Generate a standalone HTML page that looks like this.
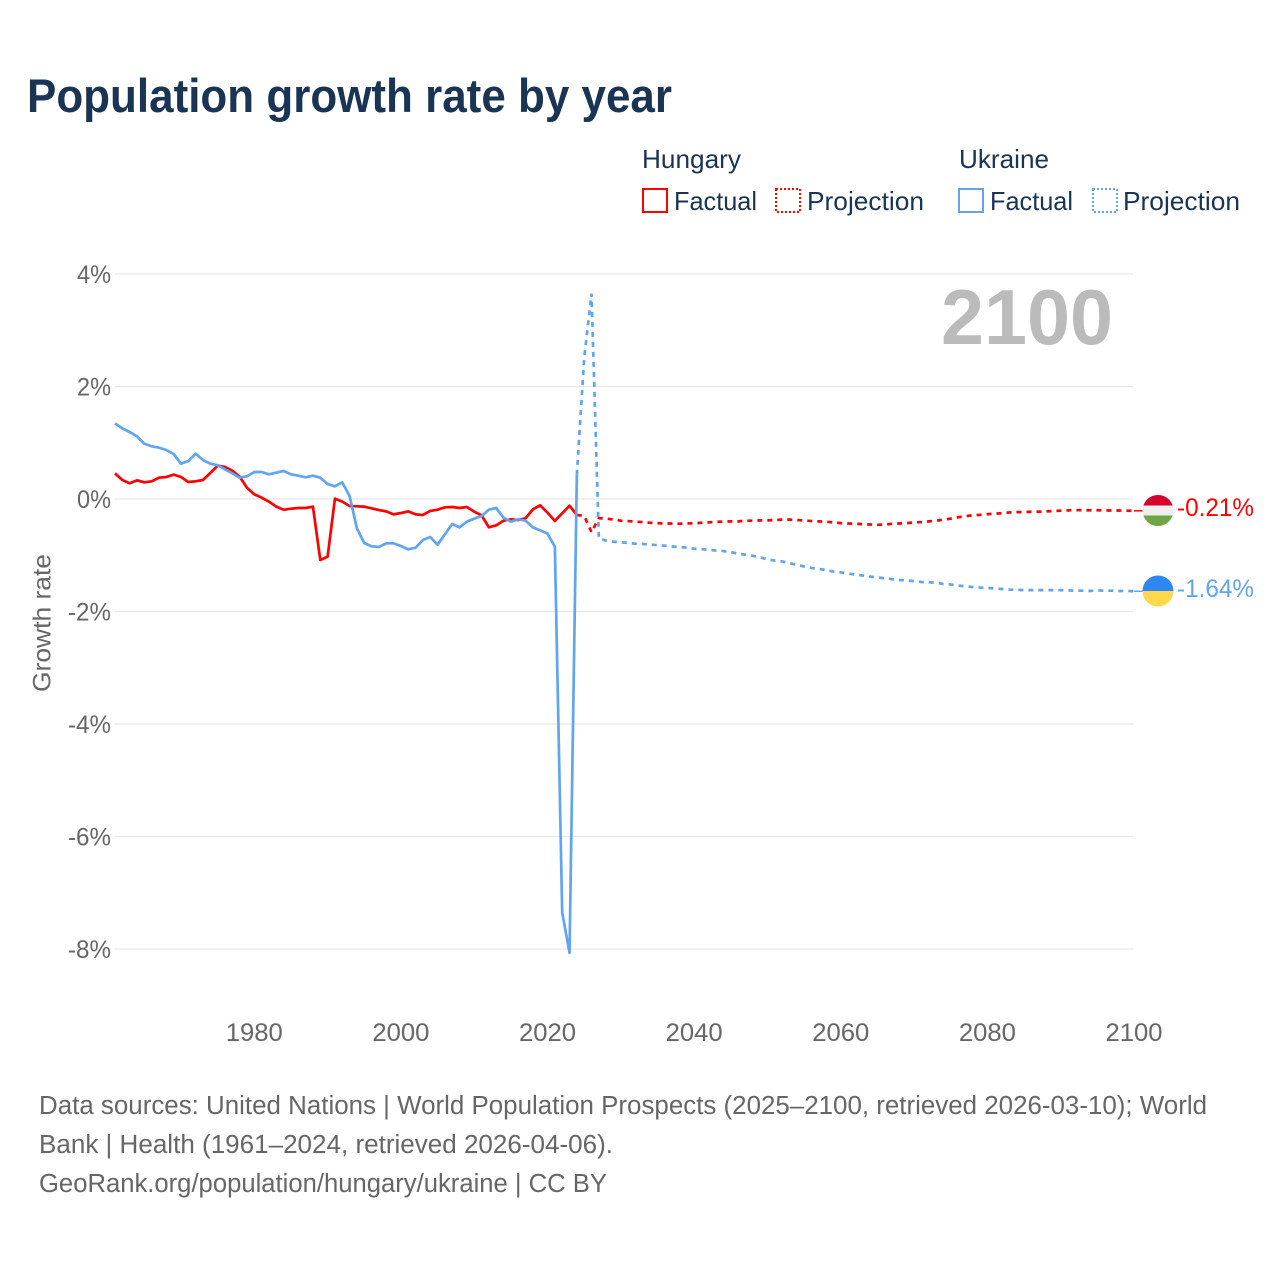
<!DOCTYPE html>
<html>
<head>
<meta charset="utf-8">
<title>Population growth rate by year</title>
<style>
html,body{margin:0;padding:0;background:#fff}
svg{display:block}
text{font-family:"Liberation Sans",sans-serif}
</style>
</head>
<body>
<svg id="chart" xmlns="http://www.w3.org/2000/svg" width="1280" height="1280" viewBox="0 0 1280 1280">
  <defs>
    <clipPath id="hu-clip"><circle cx="1158" cy="510.5" r="15.5"/></clipPath>
    <clipPath id="ua-clip"><circle cx="1158" cy="591" r="15.5"/></clipPath>
  </defs>
  <rect x="0" y="0" width="1280" height="1280" fill="#fff"/>
  <text x="27" y="112" font-size="47" font-weight="700" fill="#1a3454" textLength="645" lengthAdjust="spacingAndGlyphs">Population growth rate by year</text>

  <g font-size="26" fill="#1a3454">
    <text x="642" y="168" textLength="99" lengthAdjust="spacingAndGlyphs">Hungary</text>
    <text x="959" y="168" textLength="90" lengthAdjust="spacingAndGlyphs">Ukraine</text>
    <rect x="643" y="189" width="24" height="23" fill="none" stroke="#ff0000" stroke-width="2"/>
    <text x="674" y="210" textLength="83" lengthAdjust="spacingAndGlyphs">Factual</text>
    <rect x="776" y="189" width="24" height="23" fill="none" stroke="#ff0000" stroke-width="2" stroke-dasharray="2 2"/>
    <text x="807" y="210" textLength="117" lengthAdjust="spacingAndGlyphs">Projection</text>
    <rect x="959" y="189" width="24" height="23" fill="none" stroke="#60a5ee" stroke-width="2"/>
    <text x="990" y="210" textLength="83" lengthAdjust="spacingAndGlyphs">Factual</text>
    <rect x="1093" y="189" width="24" height="23" fill="none" stroke="#60a5ee" stroke-width="2" stroke-dasharray="2 2"/>
    <text x="1123" y="210" textLength="117" lengthAdjust="spacingAndGlyphs">Projection</text>
  </g>

  <g id="grid"></g>
  <g id="y-ticks"></g>
  <g id="x-ticks"></g>
  <text transform="translate(50.5 692) rotate(-90)" x="0" y="0" font-size="25" fill="#666" textLength="138" lengthAdjust="spacingAndGlyphs">Growth rate</text>
  <text x="941" y="344" font-size="78" font-weight="700" fill="#bbbbbb" textLength="172" lengthAdjust="spacingAndGlyphs">2100</text>
  <g id="series"></g>

  <g clip-path="url(#hu-clip)">
    <rect x="1140" y="494" width="36" height="11.5" fill="#d5002b"/>
    <rect x="1140" y="505.5" width="36" height="10" fill="#eeeeee"/>
    <rect x="1140" y="515.5" width="36" height="12" fill="#6fa544"/>
  </g>
  <g clip-path="url(#ua-clip)">
    <rect x="1140" y="574" width="36" height="17" fill="#2f88f0"/>
    <rect x="1140" y="591" width="36" height="17" fill="#ffd84c"/>
  </g>
  <text id="label-hu" x="1177" y="516" font-size="25" fill="#ff0000" textLength="77" lengthAdjust="spacingAndGlyphs">-0.21%</text>
  <text id="label-ua" x="1177" y="597" font-size="25" fill="#60a5ee" textLength="77" lengthAdjust="spacingAndGlyphs">-1.64%</text>

  <g font-size="25.5" fill="#666">
    <text x="39" y="1114" textLength="1168" lengthAdjust="spacingAndGlyphs">Data sources: United Nations | World Population Prospects (2025–2100, retrieved 2026-03-10); World</text>
    <text x="39" y="1153" textLength="574" lengthAdjust="spacingAndGlyphs">Bank | Health (1961–2024, retrieved 2026-04-06).</text>
    <text x="39" y="1192" textLength="568" lengthAdjust="spacingAndGlyphs">GeoRank.org/population/hungary/ukraine | CC BY</text>
  </g>
</svg>
<script>
const yTickValues = [4, 2, 0, -2, -4, -6, -8];
const yTickLabels = ['4%', '2%', '0%', '-2%', '-4%', '-6%', '-8%'];
const xTickValues = [1980, 2000, 2020, 2040, 2060, 2080, 2100];
const xTickLabels = ['1980', '2000', '2020', '2040', '2060', '2080', '2100'];

const factualStartYear = 1961;
const projectionStartYear = 2024;

const hungaryFactual = [0.456, 0.338, 0.279, 0.332, 0.296, 0.314, 0.379, 0.391, 0.433, 0.391,
  0.302, 0.314, 0.338, 0.462, 0.593, 0.569, 0.504, 0.397, 0.201, 0.083,
  0.024, -0.047, -0.136, -0.19, -0.172, -0.16, -0.16, -0.136, -1.084, -1.025,
  0.006, -0.047, -0.124, -0.13, -0.136, -0.166, -0.196, -0.22, -0.273, -0.249,
  -0.22, -0.273, -0.284, -0.213, -0.19, -0.148, -0.142, -0.16, -0.142, -0.225,
  -0.29, -0.504, -0.468, -0.385, -0.361, -0.373, -0.344, -0.184, -0.113, -0.243,
  -0.391, -0.255, -0.119, -0.284];

const ukraineFactual = [1.345, 1.256, 1.191, 1.114, 0.984, 0.936, 0.913, 0.871, 0.8, 0.628,
  0.676, 0.806, 0.693, 0.628, 0.6, 0.527, 0.456, 0.379, 0.403, 0.48,
  0.48, 0.439, 0.468, 0.498, 0.439, 0.415, 0.385, 0.415, 0.379, 0.267,
  0.225, 0.296, 0.053, -0.521, -0.782, -0.841, -0.853, -0.788, -0.788, -0.836,
  -0.895, -0.865, -0.729, -0.676, -0.812, -0.628, -0.444, -0.504, -0.403, -0.35,
  -0.302, -0.19, -0.16, -0.332, -0.403, -0.361, -0.385, -0.504, -0.557, -0.616,
  -0.847, -7.35, -8.07, 0.43];

const hungaryProjection = [-0.284, -0.3, -0.59, -0.34,
  -0.349, -0.365, -0.386, -0.392, -0.404, -0.41, -0.423, -0.429, -0.435, -0.435, -0.44, -0.435,
  -0.43, -0.423, -0.416, -0.404, -0.404, -0.398, -0.398, -0.386, -0.386, -0.38, -0.38, -0.374,
  -0.367, -0.367, -0.374, -0.38, -0.392, -0.398, -0.404, -0.416, -0.429, -0.435, -0.441, -0.447,
  -0.453, -0.459, -0.453, -0.441, -0.435, -0.429, -0.416, -0.41, -0.398, -0.386, -0.367, -0.349,
  -0.325, -0.306, -0.288, -0.282, -0.269, -0.263, -0.251, -0.239, -0.233, -0.233, -0.227, -0.227,
  -0.22, -0.214, -0.208, -0.202, -0.196, -0.2, -0.2, -0.2, -0.202, -0.205, -0.205, -0.208, -0.21];

const ukraineProjection = [0.43, 2.5, 3.65, -0.7,
  -0.74, -0.76, -0.77, -0.78, -0.795, -0.8, -0.81, -0.82, -0.83, -0.845, -0.855, -0.865,
  -0.885, -0.89, -0.905, -0.915, -0.925, -0.945, -0.97, -0.99, -1.01, -1.035, -1.075, -1.095,
  -1.11, -1.14, -1.17, -1.2, -1.225, -1.24, -1.265, -1.29, -1.305, -1.325, -1.345, -1.36,
  -1.38, -1.395, -1.41, -1.425, -1.44, -1.45, -1.46, -1.475, -1.48, -1.49, -1.51, -1.52,
  -1.54, -1.55, -1.565, -1.575, -1.58, -1.59, -1.6, -1.61, -1.615, -1.62, -1.62, -1.62,
  -1.62, -1.62, -1.62, -1.625, -1.63, -1.63, -1.635, -1.625, -1.63, -1.63, -1.635, -1.635, -1.64];

const SVG_NS = 'http://www.w3.org/2000/svg';
const xScale = function (year) { return 115 + (year - 1961) * 7.331; };
const yScale = function (value) { return 499 - value * 56.25; };

function make(tag, parent, attrs) {
  const el = document.createElementNS(SVG_NS, tag);
  Object.keys(attrs).forEach(function (k) { el.setAttribute(k, attrs[k]); });
  parent.appendChild(el);
  return el;
}

function pathFor(values, startYear) {
  return values.map(function (v, i) {
    return (i ? 'L' : 'M') + xScale(startYear + i).toFixed(2) + ' ' + yScale(v).toFixed(2);
  }).join(' ');
}

const gridGroup = document.getElementById('grid');
const yGroup = document.getElementById('y-ticks');
const xGroup = document.getElementById('x-ticks');
const seriesGroup = document.getElementById('series');

yTickValues.forEach(function (v, i) {
  const line = make('line', gridGroup, { x1: 115, x2: 1133, y1: yScale(v), y2: yScale(v), stroke: '#e8e8e8', 'stroke-width': 1.3 });
  
  
  const t = make('text', yGroup, { x: 111, y: yScale(v) + 9, 'text-anchor': 'end', 'font-size': 25, fill: '#666', textLength: yTickLabels[i].length === 2 ? 34 : 43, lengthAdjust: 'spacingAndGlyphs' });
  
  
  t.textContent = yTickLabels[i];
});

xTickValues.forEach(function (v, i) {
  const t = make('text', xGroup, { x: xScale(v), y: 1041, 'text-anchor': 'middle', 'font-size': 25, fill: '#666', textLength: 57, lengthAdjust: 'spacingAndGlyphs' });
  
  
  t.textContent = xTickLabels[i];
});

const red = '#ff0000';
const blue = '#60a5ee';

const hp = make('path', seriesGroup, { d: pathFor(hungaryProjection, projectionStartYear), fill: 'none', stroke: red, 'stroke-width': 2.7, 'stroke-dasharray': '5 5' });



const hf = make('path', seriesGroup, { d: pathFor(hungaryFactual, factualStartYear), fill: 'none', stroke: red, 'stroke-width': 2.7, 'stroke-linejoin': 'round' });



const up = make('path', seriesGroup, { d: pathFor(ukraineProjection, projectionStartYear), fill: 'none', stroke: blue, 'stroke-width': 2.7, 'stroke-dasharray': '5 5' });



const uf = make('path', seriesGroup, { d: pathFor(ukraineFactual, factualStartYear), fill: 'none', stroke: blue, 'stroke-width': 2.7, 'stroke-linejoin': 'round' });



const hLast = hungaryProjection[hungaryProjection.length - 1];
const uLast = ukraineProjection[ukraineProjection.length - 1];

const hc = make('line', seriesGroup, { x1: xScale(2100), x2: 1143, y1: yScale(hLast), y2: yScale(hLast), stroke: red, 'stroke-width': 1.5 });



const uc = make('line', seriesGroup, { x1: xScale(2100), x2: 1143, y1: yScale(uLast), y2: yScale(uLast), stroke: blue, 'stroke-width': 1.5 });


</script>
</body>
</html>
